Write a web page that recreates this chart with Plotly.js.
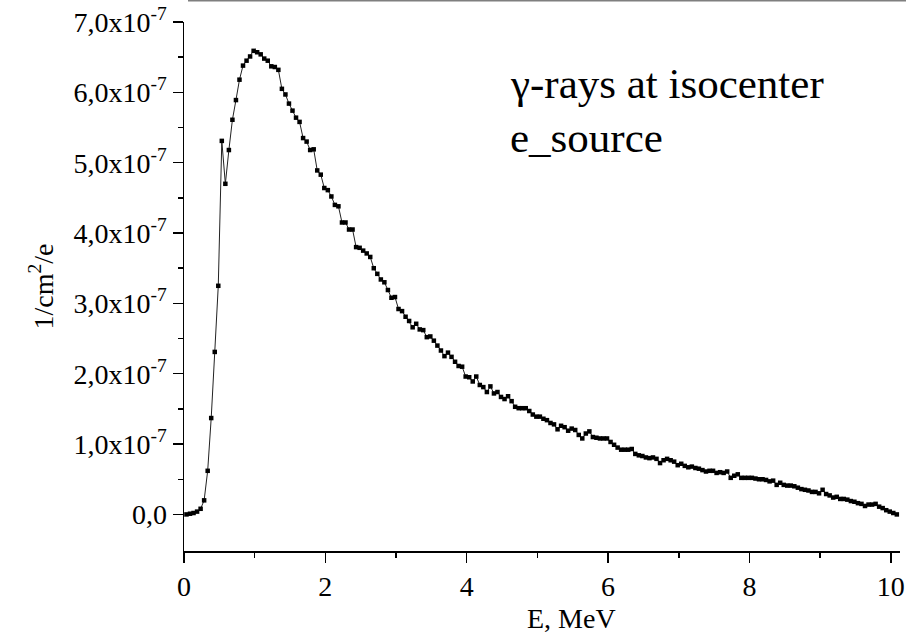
<!DOCTYPE html>
<html>
<head>
<meta charset="utf-8">
<script src="https://cdn.plot.ly/plotly-3.0.1.min.js"></script>
<style>
  html, body { margin: 0; padding: 0; background: #ffffff; }
  #chart { width: 906px; height: 635px; }
</style>
</head>
<body>
<div id="chart"></div>
<script>
// Photon energy bin centres, MeV
const energyMeV = [
  0.035,0.085,0.135,0.185,0.235,0.285,0.335,0.385,0.435,0.485,
  0.535,0.585,0.635,0.685,0.735,0.785,0.835,0.885,0.935,0.985,
  1.035,1.085,1.135,1.185,1.235,1.285,1.335,1.385,1.435,1.485,
  1.535,1.585,1.635,1.685,1.735,1.785,1.835,1.885,1.935,1.985,
  2.035,2.085,2.135,2.185,2.235,2.285,2.335,2.385,2.435,2.485,
  2.535,2.585,2.635,2.685,2.735,2.785,2.835,2.885,2.935,2.985,
  3.035,3.085,3.135,3.185,3.235,3.285,3.335,3.385,3.435,3.485,
  3.535,3.585,3.635,3.685,3.735,3.785,3.835,3.885,3.935,3.985,
  4.035,4.085,4.135,4.185,4.235,4.285,4.335,4.385,4.435,4.485,
  4.535,4.585,4.635,4.685,4.735,4.785,4.835,4.885,4.935,4.985,
  5.035,5.085,5.135,5.185,5.235,5.285,5.335,5.385,5.435,5.485,
  5.535,5.585,5.635,5.685,5.735,5.785,5.835,5.885,5.935,5.985,
  6.035,6.085,6.135,6.185,6.235,6.285,6.335,6.385,6.435,6.485,
  6.535,6.585,6.635,6.685,6.735,6.785,6.835,6.885,6.935,6.985,
  7.035,7.085,7.135,7.185,7.235,7.285,7.335,7.385,7.435,7.485,
  7.535,7.585,7.635,7.685,7.735,7.785,7.835,7.885,7.935,7.985,
  8.035,8.085,8.135,8.185,8.235,8.285,8.335,8.385,8.435,8.485,
  8.535,8.585,8.635,8.685,8.735,8.785,8.835,8.885,8.935,8.985,
  9.035,9.085,9.135,9.185,9.235,9.285,9.335,9.385,9.435,9.485,
  9.535,9.585,9.635,9.685,9.735,9.785,9.835,9.885,9.935,9.985,
  10.035,10.085
];

// Fluence per bin, in units of 1e-7 (1/cm^2/e)
const fluenceE7 = [
  0.00,0.01,0.02,0.04,0.08,0.20,0.62,1.37,2.31,3.25,
  5.31,4.70,5.18,5.61,5.89,6.18,6.38,6.45,6.51,6.59,
  6.57,6.54,6.48,6.45,6.37,6.36,6.32,6.05,5.97,5.84,
  5.74,5.64,5.58,5.35,5.30,5.18,5.19,4.89,4.83,4.64,
  4.61,4.52,4.40,4.38,4.15,4.15,4.05,4.05,3.80,3.79,
  3.75,3.71,3.66,3.50,3.42,3.34,3.30,3.19,3.08,3.09,
  2.92,2.89,2.81,2.75,2.66,2.71,2.63,2.62,2.52,2.53,
  2.47,2.40,2.33,2.25,2.30,2.24,2.17,2.11,2.10,1.96,
  1.95,1.89,1.96,1.84,1.81,1.74,1.82,1.72,1.74,1.67,
  1.64,1.68,1.61,1.53,1.51,1.51,1.51,1.47,1.42,1.39,
  1.39,1.36,1.34,1.30,1.28,1.21,1.26,1.24,1.19,1.22,
  1.20,1.13,1.08,1.15,1.18,1.10,1.09,1.08,1.08,1.08,
  1.03,0.99,0.95,0.92,0.92,0.92,0.93,0.86,0.84,0.83,
  0.81,0.80,0.81,0.79,0.73,0.77,0.79,0.77,0.75,0.70,
  0.72,0.69,0.67,0.68,0.66,0.65,0.63,0.61,0.62,0.62,
  0.59,0.60,0.59,0.61,0.52,0.55,0.57,0.52,0.52,0.52,
  0.52,0.51,0.50,0.50,0.49,0.47,0.48,0.42,0.45,0.42,
  0.41,0.41,0.40,0.38,0.36,0.35,0.34,0.32,0.32,0.30,
  0.35,0.29,0.27,0.24,0.25,0.22,0.22,0.21,0.19,0.18,
  0.16,0.15,0.12,0.14,0.14,0.15,0.11,0.09,0.06,0.04,
  0.02,0.00
];

const xTickVals = [0, 2, 4, 6, 8, 10];
const xTickText = ["0", "2", "4", "6", "8", "10"];
const xMinorVals = [1, 3, 5, 7, 9];

const yTickVals = [0, 1, 2, 3, 4, 5, 6, 7];
const yTickText = [
  "0,0",
  "1,0x10<sup>-7</sup>",
  "2,0x10<sup>-7</sup>",
  "3,0x10<sup>-7</sup>",
  "4,0x10<sup>-7</sup>",
  "5,0x10<sup>-7</sup>",
  "6,0x10<sup>-7</sup>",
  "7,0x10<sup>-7</sup>"
];
const yMinorVals = [0.5, 1.5, 2.5, 3.5, 4.5, 5.5, 6.5];

const labelLine1 = "γ-rays at isocenter";
const labelLine2 = "e_source";
const xTitle = "E, MeV";
const yTitle = "1/cm<sup>2</sup>/e";

const fam = "Liberation Serif";

const trace = {
  type: "scatter",
  mode: "lines+markers",
  x: energyMeV,
  y: fluenceE7,
  line: { color: "#222222", width: 1 },
  marker: { symbol: "square", size: 4.5, color: "#000000" },
  showlegend: false,
  hoverinfo: "x+y"
};

const layout = {
  width: 906,
  height: 635,
  margin: { l: 184, r: 6, t: 22, b: 84 },
  paper_bgcolor: "#ffffff",
  plot_bgcolor: "#ffffff",
  showlegend: false,
  xaxis: {
    range: [0, 10.13],
    showline: true, linecolor: "#000000", linewidth: 1.5,
    showgrid: false, zeroline: false,
    ticks: "outside", ticklen: 10, tickwidth: 1.5, tickcolor: "#000000",
    tickmode: "array", tickvals: xTickVals, ticktext: xTickText,
    minor: { tickmode: "array", tickvals: xMinorVals, ticks: "outside", ticklen: 5, tickwidth: 1.5, tickcolor: "#000000", showgrid: false },
    tickfont: { family: fam, size: 28, color: "#000" }
  },
  yaxis: {
    range: [-0.52, 7.0],
    showline: true, linecolor: "#000000", linewidth: 1.5,
    showgrid: false, zeroline: false,
    ticks: "outside", ticklen: 10, tickwidth: 1.5, tickcolor: "#000000",
    tickmode: "array", tickvals: yTickVals, ticktext: yTickText,
    minor: { tickmode: "array", tickvals: yMinorVals, ticks: "outside", ticklen: 5, tickwidth: 1.5, tickcolor: "#000000", showgrid: false },
    tickfont: { family: fam, size: 28, color: "#000" },
    title: { text: yTitle, font: { family: fam, size: 28, color: "#000" }, standoff: 12 }
  },
  annotations: [
    { x: 4.58, y: 6.12, xref: "x", yref: "y", text: labelLine1, showarrow: false,
      xanchor: "left", yanchor: "middle", font: { family: fam, size: 43, color: "#000" } },
    { x: 4.58, y: 5.36, xref: "x", yref: "y", text: labelLine2, showarrow: false,
      xanchor: "left", yanchor: "middle", font: { family: fam, size: 43, color: "#000" } },
    { x: 0.541, y: -0.1267, xref: "paper", yref: "paper", text: xTitle, showarrow: false,
      xanchor: "center", yanchor: "middle", font: { family: fam, size: 28, color: "#000" } }
  ],
  shapes: [
    { type: "line", xref: "paper", yref: "paper", x0: 0.0056, x1: 1.01, y0: 1.0406, y1: 1.0406,
      line: { color: "#7f7f7f", width: 2 } }
  ]
};

Plotly.newPlot("chart", [trace], layout, { staticPlot: true });
</script>
</body>
</html>
